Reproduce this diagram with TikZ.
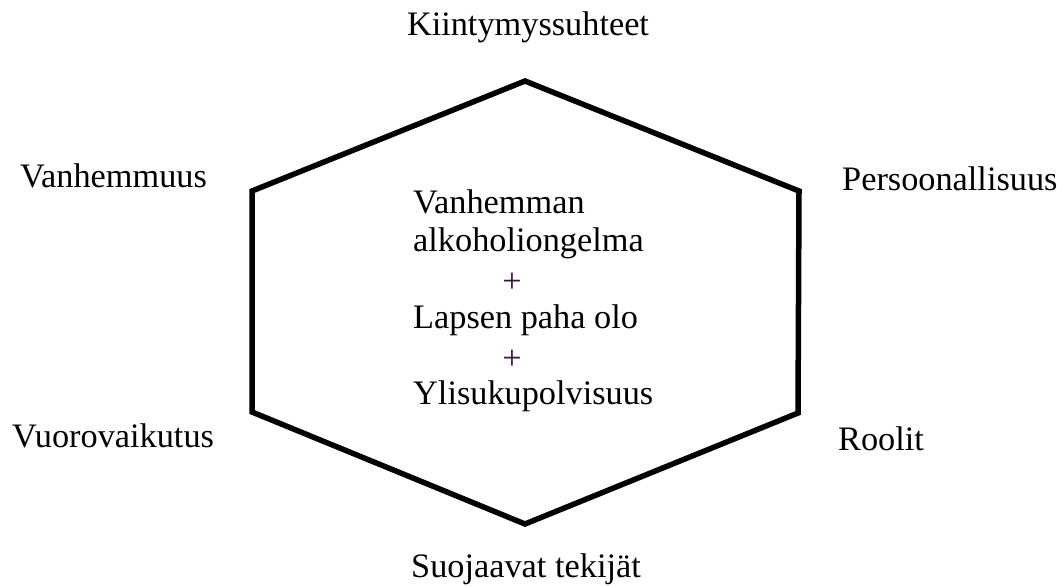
\documentclass[tikz,border=0pt]{standalone}
\usepackage{fontspec}
\setmainfont{Liberation Serif}
\definecolor{plusviolet}{HTML}{3A1240}
\begin{document}
\begin{tikzpicture}[x=1pt,y=-1pt,
  lbl/.style={inner sep=0pt,font=\fontsize{34.3}{38}\selectfont},
  hexline/.style={line width=5.5pt,line join=miter}]
\useasboundingbox (0,0) rectangle (1062,586);
% hexagon corners
\coordinate (t)  at (525,81);
\coordinate (rt) at (799,191);
\coordinate (rb) at (798,413);
\coordinate (b)  at (525,524);
\coordinate (lb) at (252,412);
\coordinate (lt) at (252,191);
\draw[hexline] (t) -- (rt) -- (rb) -- (b) -- (lb) -- (lt) -- cycle;
% factors around the hexagon
\node[lbl,anchor=base] (k) at (528,36) {Kiintymyssuhteet};
\node[lbl,anchor=base west] (v) at (20,187) {Vanhemmuus};
\node[lbl,anchor=base west] (p) at (842,190) {Persoonallisuus};
\node[lbl,anchor=base west] (vu) at (12,447) {Vuorovaikutus};
\node[lbl,anchor=base west] (r) at (838,450) {Roolit};
\node[lbl,anchor=base] (s) at (526,577) {Suojaavat tekijät};
% central content
\node[lbl,anchor=base west] (c1) at (413,213) {Vanhemman};
\node[lbl,anchor=base west] (c2) at (413,251) {alkoholiongelma};
\node[lbl,anchor=base,text=plusviolet] (c3) at (512,292) {+};
\node[lbl,anchor=base west] (c4) at (413,328) {Lapsen paha olo};
\node[lbl,anchor=base,text=plusviolet] (c5) at (512,369) {+};
\node[lbl,anchor=base west] (c6) at (413,404) {Ylisukupolvisuus};
\end{tikzpicture}
\end{document}
